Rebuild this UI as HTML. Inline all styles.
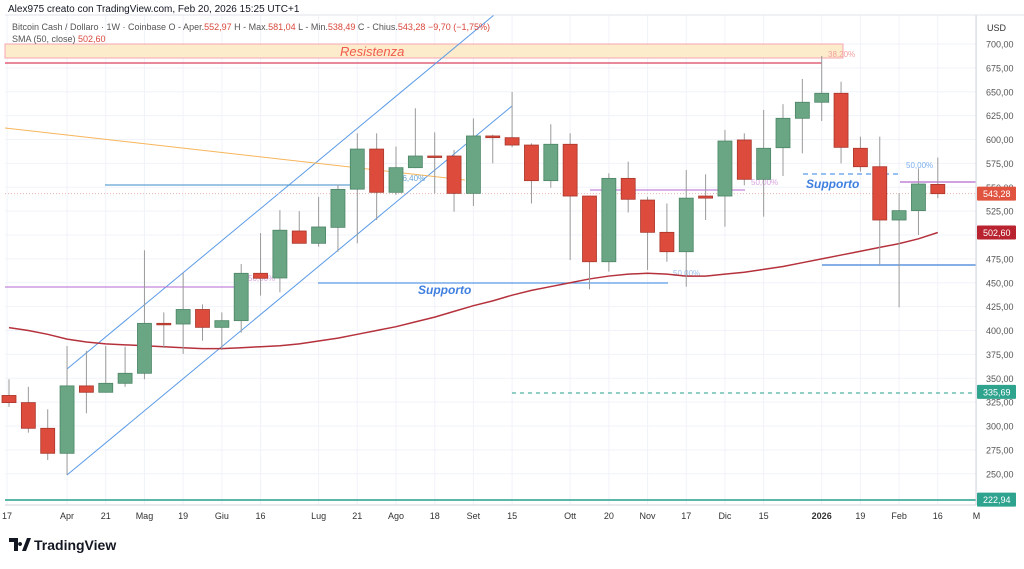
<!DOCTYPE html>
<html><head><meta charset="utf-8"><style>
body{margin:0;background:#fff;font-family:"Liberation Sans",sans-serif;}
svg text{font-family:"Liberation Sans",sans-serif;}
</style></head><body>
<svg id="c" width="1024" height="564" xmlns="http://www.w3.org/2000/svg">
<rect width="1024" height="564" fill="#fff"/>
<g id="grid"></g>
<g id="draw"></g>
<g id="candles"></g>
<g id="axes"></g>
<text x="8" y="12" font-size="10" fill="#131722">Alex975 creato con TradingView.com, Feb 20, 2026 15:25 UTC+1</text>
<text x="12" y="30" font-size="9" fill="#555">Bitcoin Cash / Dollaro · 1W · Coinbase  O - Aper.<tspan fill="#d9473b">552,97</tspan>  H - Max.<tspan fill="#d9473b">581,04</tspan>  L - Min.<tspan fill="#d9473b">538,49</tspan>  C - Chius.<tspan fill="#d9473b">543,28</tspan>  <tspan fill="#d9473b">−9,70 (−1,75%)</tspan></text>
<text x="12" y="42" font-size="9" fill="#555">SMA (50, close)  <tspan fill="#d9473b">502,60</tspan></text>
<g>
<path d="M9 538h9v13h-4v-9h-5z M20 542a2 2 0 1 0 .1 0z M22 551l5-13h4l-5 13z" fill="#131722"/>
<text x="34" y="550" font-size="14" font-weight="bold" fill="#131722">TradingView</text>
</g>
</svg>
<script>
const opens=[332,324.5,297.6,271.4,342,335.3,344.7,355.2,407.5,406.8,422,403.3,410.3,459.9,455,504.2,491.3,508,548,590,544.7,570.5,582.7,582.7,543.6,603.7,601.9,594.2,556.9,595,540.8,472,559.3,536.6,502.8,482.5,540.8,540.8,599.5,558.3,591.4,622.2,639,648.4,590.8,571.5,515.7,525.5,552.97];
const closes=[324.5,297.6,271.4,342,335.3,344.7,355.2,407.5,406.8,422,403.3,410.3,459.9,454.7,505,491.3,508.4,547.8,590,544.7,570.5,582.7,582,543.6,603.7,601.9,594.2,556.9,595,540.8,472,559.3,537.4,502.8,482.5,538.6,538.6,598.4,558.3,590.8,622.2,639,648.4,591.8,571.5,515.7,525.5,553.4,543.28];
const highs=[349,341,317.5,383.8,378.8,383.8,383,484,419,460.5,427.4,419,469.6,502,526,525,540,553,606.5,606.5,592.5,632.7,607.5,589,622,605,649.7,596,616,606.5,541,564.6,576.8,540,533,568,563.6,610,606.5,631,637,663.4,687.4,660.5,603,603,543.6,569.8,581.04];
const lows=[320,293,264.4,248.7,313.3,335,341,349,381.7,375.5,389.3,379.6,397.7,436.5,440,491,487.7,482.5,491.3,515.7,542,570,543.6,524.4,530.4,575,592,533,549.5,473.8,443,461.6,523.6,463.4,472,445.8,515.7,508.7,552,519.2,561.8,585.5,619.4,575,566.3,468.6,424.3,500,538.49];
const sma=[403,400,396,391,388,386,385,384,383,382,381,381,382,383,384,386,389,392,396,400,404,409,414,420,426,431,437,442,446,450,454,457,459,460,459,457,457,459,461,464,467,471,475,479,483,487,491,496,502.6];
const yTicks=[700,675,650,625,600,575,550,525,500,475,450,425,400,375,350,325,300,275,250];
const xLabels=[["17",-0.1],["Apr",3],["21",5],["Mag",7],["19",9],["Giu",11],["16",13],["Lug",16],["21",18],["Ago",20],["18",22],["Set",24],["15",26],["Ott",29],["20",31],["Nov",33],["17",35],["Dic",37],["15",39],["2026",42],["19",44],["Feb",46],["16",48],["M",50]];
const NS="http://www.w3.org/2000/svg";
const y=v=>44+(700-v)*0.955;
const x=i=>9+i*19.35;
function mk(par,tag,at){const e=document.createElementNS(NS,tag);for(const k in at)e.setAttribute(k,at[k]);document.getElementById(par).appendChild(e);return e;}
// grid + axis
yTicks.forEach(v=>{
  const g=mk('grid','line',{x1:5,x2:976,y1:y(v),y2:y(v),stroke:'#f0f3fa'});
  
  
  const t=mk('axes','text',{x:986,y:y(v)+3.5,'font-size':9,fill:'#555'});
  
  
  t.textContent=v.toFixed(2).replace('.',',');
});
xLabels.forEach(([l,i])=>{
  const g=mk('grid','line',{x1:x(i),x2:x(i),y1:15,y2:505,stroke:'#f0f3fa'});
  
  
  const t=mk('axes','text',{x:x(i),y:519,'font-size':9,fill:'#333','text-anchor':'middle','font-weight':l==='2026'?'bold':'normal'});
  
  
  t.textContent=l;
});
let a=mk('axes','line',{x1:976,x2:976,y1:15,y2:505,stroke:'#d1d4dc'});


a=mk('axes','line',{x1:5,x2:976,y1:505,y2:505,stroke:'#d1d4dc'});


a=mk('axes','line',{x1:5,x2:1024,y1:15,y2:15,stroke:'#e0e3eb'});


a=mk('axes','text',{x:987,y:31,'font-size':9,fill:'#333'});


a.textContent='USD';
// drawings
function ln(x1,y1,x2,y2,st,w,dash,name){const e=mk('draw','line',{x1,y1,x2,y2,stroke:st,'stroke-width':w||1});if(dash)e.setAttribute('stroke-dasharray',dash);return e;}
function tx(xx,yy,s,c,fs,name,extra){const e=mk('draw','text',Object.assign({x:xx,y:yy,'font-size':fs,fill:c},extra||{}));e.textContent=s;return e;}
let r=mk('draw','rect',{x:5,y:44,width:838,height:14,fill:'#fdeccb',stroke:'#f4a6b0'});


ln(5,63,822,63,'#e0607a',1.5,null,'resistance-line');
tx(340,56,'Resistenza','#f05a4b',13,'resistance-label',{'font-style':'italic'});
tx(828,57,'38,20%','#f3a0a0',8,'fib-38-label');
ln(67,369,494,15,'#5b9be6',1,null,'channel-upper');
ln(67,475,512,106,'#5b9be6',1,null,'channel-lower');
ln(5,128,465,180,'#f7b55a',1,null,'trendline-orange');
ln(105,185,357,185,'#3c8dc9',1,null,'level-blue-550');
tx(398,181,'76,40%','#6aa6d6',8,'fib-76-label');
ln(5,287,241,287,'#b56ad1',1,null,'level-purple-446');
tx(248,281,'50,00%','#d7a6e0',8,'fib-50-label-1');
ln(318,283,668,283,'#5b9be6',1.2,null,'support-line-1');
tx(418,294,'Supporto','#3f7fe0',12,'support-label-1',{'font-style':'italic','font-weight':'bold'});
tx(673,276,'50,00%','#9cc1f0',8,'fib-50-label-2');
ln(590,190,745,190,'#b56ad1',1,null,'level-purple-548');
tx(751,185,'50,00%','#d7a6e0',8,'fib-50-label-3');
ln(803,174,900,174,'#5b9be6',1.2,'5,4','support-dashed');
tx(806,188,'Supporto','#3f7fe0',12,'support-label-2',{'font-style':'italic','font-weight':'bold'});
tx(906,168,'50,00%','#7fb0ee',8,'fib-50-label-4');
ln(900,182,976,182,'#b56ad1',1.2,null,'level-purple-555');
ln(822,265,976,265,'#3c7fd8',1.2,null,'support-line-2');
ln(512,393,976,393,'#22a08a',1,'4,4','level-teal-dashed');
ln(5,500,976,500,'#22a08a',1.5,null,'level-teal-222');
ln(5,y(543.28),976,y(543.28),'#e8b4ad',1,'1,2','last-price-line');
// SMA
let pts=sma.map((v,i)=>x(i)+','+y(v)).join(' ');
let p=mk('draw','polyline',{points:pts,fill:'none',stroke:'#b5313c','stroke-width':1.5});


// candles
opens.forEach((o,i)=>{
  const c=closes[i],up=c>=o,cx=x(i);
  const w=mk('candles','line',{x1:cx,x2:cx,y1:y(highs[i]),y2:y(lows[i]),stroke:'#9a9a9a'});
  
  
  const top=y(Math.max(o,c)),h=Math.max(1.5,Math.abs(y(o)-y(c)));
  const b=mk('candles','rect',{x:cx-7,y:top,width:14,height:h,fill:up?'#6aa584':'#dc4b3b',stroke:up?'#4c8566':'#a8372c','stroke-width':0.8});
  
  
});
// price tags
function tag(v,bg,name){const yy=y(v);const rr=mk('axes','rect',{x:977,y:yy-7,width:39,height:14,fill:bg,rx:1});const t=mk('axes','text',{x:983,y:yy+3.5,'font-size':9,fill:'#fff'});t.textContent=v.toFixed(2).replace('.',',');}
tag(543.28,'#e0533f','last-price-tag');
tag(502.60,'#b8232f','sma-price-tag');
tag(335.69,'#2ea38e','teal-level-tag');
tag(222.94,'#2ea38e','teal-low-tag');
</script>
</body></html>
